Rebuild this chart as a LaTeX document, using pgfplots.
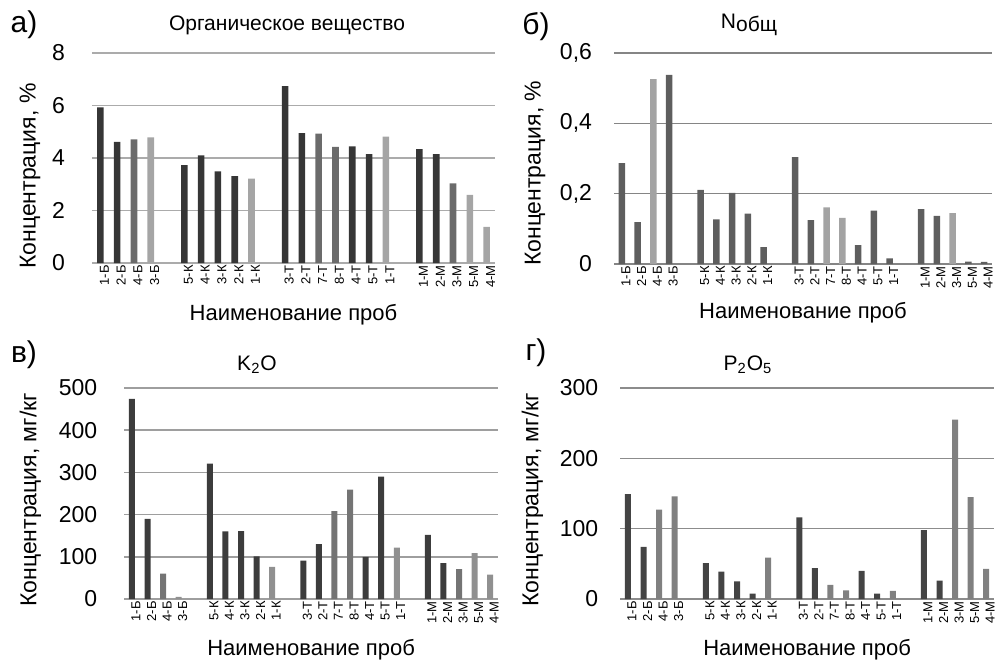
\documentclass[border=0pt]{standalone}
\usepackage{fontspec}
\setmainfont{Liberation Sans}
\usepackage{pgfplots}
\pgfplotsset{compat=1.18}
\definecolor{aDark}{HTML}{363636}
\definecolor{aMed}{HTML}{6B6B6B}
\definecolor{aLight}{HTML}{A5A5A5}
\definecolor{bMain}{HTML}{5E5E5E}
\definecolor{bLight}{HTML}{A3A3A3}
\definecolor{cDark}{HTML}{3C3C3C}
\definecolor{cMed}{HTML}{747474}
\definecolor{cLight}{HTML}{909090}
\definecolor{dDark}{HTML}{444444}
\definecolor{dMed}{HTML}{808080}
\pgfplotsset{
  panel/.style={
    scale only axis, ybar, bar shift=0pt,
    xmin=-0.5, xmax=23.5, ymin=0,
    axis line style={draw=none},
    ymajorgrids,
    major tick length=0pt,
    xtick={0,1,2,3,5,6,7,8,9,11,12,13,14,15,16,17,19,20,21,22,23},
    xticklabels={1-Б,2-Б,4-Б,3-Б,5-К,4-К,3-К,2-К,1-К,3-Т,2-Т,7-Т,8-Т,4-Т,5-Т,1-Т,1-М,2-М,3-М,5-М,4-М},
    x tick label style={rotate=90, anchor=east, font=\fontsize{6.5}{7}\selectfont, yshift=-2pt, inner sep=1pt},
    y tick label style={font=\fontsize{11.5}{13}\selectfont},
    /pgf/number format/assume math mode=true,
    xlabel style={font=\fontsize{11}{13}\selectfont},
    ylabel style={font=\fontsize{11.5}{13}\selectfont},
    xlabel={Наименование проб},
  },
}
\begin{document}
\begin{tikzpicture}
\path[use as bounding box] (0,0) rectangle (497.5pt,330pt);
\node[font=\fontsize{15}{17}\selectfont] at (12pt,317.5pt) {а)};
\node[font=\fontsize{15}{17}\selectfont] at (268pt,316.5pt) {б)};
\node[font=\fontsize{15}{17}\selectfont] at (12pt,152.5pt) {в)};
\node[font=\fontsize{15}{17}\selectfont] at (268pt,153.5pt) {г)};
\node[font=\fontsize{10.5}{12}\selectfont] at (143.5pt,317.5pt) {Органическое вещество};
\node[font=\fontsize{10.5}{12}\selectfont] at (374.5pt,317.5pt) {N\raisebox{-0.25ex}{общ}};
\node[font=\fontsize{10.5}{12}\selectfont] at (128.5pt,147.5pt) {K\textsubscript{2}O};
\node[font=\fontsize{10.5}{12}\selectfont] at (374pt,147.5pt) {P\textsubscript{2}O\textsubscript{5}};

% Panel a
\begin{axis}[panel, at={(46pt,198.5pt)}, anchor=south west,
  width=201.5pt, height=105pt, ymax=8, ytick={0,2,4,6,8},
  bar width=3.3pt,
  grid style={color=black!33, line width=0.75pt},
  y tick label style={xshift=-10pt},
  ylabel={Концентрация, \%},
  ylabel style={at={(axis description cs:-0.154,0.414)}, anchor=center},
  xlabel style={at={(axis description cs:0.5,-0.248)}, anchor=center}]
\addplot[fill=aDark, draw=none] coordinates {(0,5.93) (1,4.61) (5,3.73) (6,4.10) (7,3.49) (8,3.31) (11,6.74) (12,4.95) (15,4.44) (16,4.15) (19,4.34) (20,4.15)};
\addplot[fill=aMed, draw=none] coordinates {(2,4.71) (13,4.93) (14,4.42) (21,3.03)};
\addplot[fill=aLight, draw=none] coordinates {(3,4.79) (9,3.21) (17,4.81) (22,2.60) (23,1.38)};
\end{axis}

% Panel b
\begin{axis}[panel, at={(307pt,198pt)}, anchor=south west,
  width=189pt, height=105.5pt, ymax=0.6, ytick={0,0.2,0.4,0.6},
  bar width=3.3pt,
  /pgf/number format/fixed, /pgf/number format/precision=1, /pgf/number format/use comma,
  grid style={color=black!48, line width=0.75pt},
  y tick label style={xshift=-7.5pt},
  ylabel={Концентрация, \%},
  ylabel style={at={(axis description cs:-0.209,0.43)}, anchor=center},
  xlabel style={at={(axis description cs:0.5,-0.232)}, anchor=center}]
\addplot[fill=bMain, draw=none] coordinates {(0,0.287) (1,0.119) (3,0.538) (5,0.211) (6,0.127) (7,0.202) (8,0.143) (9,0.048) (11,0.304) (12,0.125) (15,0.054) (16,0.152) (17,0.016) (19,0.156) (20,0.137) (22,0.007) (23,0.006)};
\addplot[fill=bLight, draw=none] coordinates {(2,0.526) (13,0.161) (14,0.131) (21,0.145)};
\end{axis}

% Panel c
\begin{axis}[panel, at={(62.1pt,30.5pt)}, anchor=south west,
  width=186.9pt, height=105.5pt, ymax=500, ytick={0,100,200,300,400,500},
  bar width=3pt,
  grid style={color=black!38, line width=0.75pt},
  y tick label style={xshift=-10pt},
  ylabel={Концентрация, мг/кг},
  ylabel style={at={(axis description cs:-0.251,0.47)}, anchor=center},
  xlabel style={at={(axis description cs:0.5,-0.242)}, anchor=center}]
\addplot[fill=cDark, draw=none] coordinates {(0,474) (1,190) (5,321) (6,160) (7,161) (8,101) (11,91) (12,130) (15,100) (16,290) (19,152) (20,85)};
\addplot[fill=cMed, draw=none] coordinates {(2,60) (13,208) (14,259) (21,71)};
\addplot[fill=cLight, draw=none] coordinates {(3,5) (9,76) (17,122) (22,109) (23,58)};
\end{axis}

% Panel d
\begin{axis}[panel, at={(310.1pt,30.5pt)}, anchor=south west,
  width=186.9pt, height=105.5pt, ymax=300, ytick={0,100,200,300},
  bar width=3pt,
  grid style={color=black!45, line width=0.75pt},
  y tick label style={xshift=-7.5pt},
  ylabel={Концентрация, мг/кг},
  ylabel style={at={(axis description cs:-0.235,0.47)}, anchor=center},
  xlabel style={at={(axis description cs:0.5,-0.242)}, anchor=center}]
\addplot[fill=dDark, draw=none] coordinates {(0,149) (1,74) (5,51) (6,39) (7,25) (8,7.6) (11,116) (12,44) (15,40) (16,7.6) (19,98) (20,26)};
\addplot[fill=dMed, draw=none] coordinates {(2,127) (3,146) (9,59) (13,20) (14,12.3) (17,11.4) (21,255) (22,145) (23,43)};
\end{axis}
\end{tikzpicture}
\end{document}
